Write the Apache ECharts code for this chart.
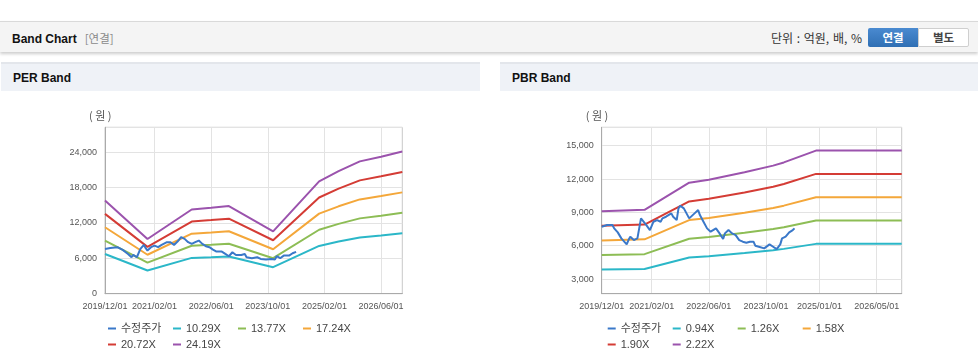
<!DOCTYPE html>
<html><head><meta charset="utf-8">
<script src="https://cdn.jsdelivr.net/npm/echarts@6/dist/echarts.min.js"></script>
<style>
html,body{margin:0;padding:0;}
body{width:978px;height:361px;background:#fff;position:relative;overflow:hidden;font-family:"Liberation Sans","Noto Sans CJK KR",sans-serif;}
.abs{position:absolute;}
#topbar{left:0;top:21px;width:978px;height:30px;background:#f4f4f4;border-top:1px solid #d9d9d9;box-shadow:0 2px 3px rgba(0,0,0,0.20);}
#ttl{left:12px;top:29px;font-size:12px;font-weight:bold;color:#111;line-height:18px;}
#ttl span{color:#8a8a8a;font-weight:normal;margin-left:8px;font-family:"Noto Sans CJK KR",sans-serif;font-size:11.5px;}
#unit{left:771px;top:29px;font-size:12px;color:#333;line-height:18px;font-family:"Noto Sans CJK KR",sans-serif;word-spacing:1px;}
#btn1{left:868px;top:28px;width:50px;height:19px;background:linear-gradient(#4a8ad0,#2f6fb4);color:#fff;font-weight:bold;font-size:11.5px;line-height:19px;text-align:center;border-radius:2px 0 0 2px;font-family:"Noto Sans CJK KR",sans-serif;}
#btn2{left:918px;top:28px;width:49px;height:17px;background:#fff;border:1px solid #cfcfcf;color:#444;font-weight:bold;font-size:11.5px;line-height:17px;text-align:center;border-radius:0 2px 2px 0;font-family:"Noto Sans CJK KR",sans-serif;}
.ph{top:62px;height:27px;background:#eff2f7;border-top:2px solid #e3e6eb;}
.ph div{position:absolute;left:12px;top:0;line-height:29px;font-size:12px;font-weight:bold;color:#111;}
#ph1{left:1px;width:479px;}
#ph2{left:500px;width:478px;}
#c1{left:0;top:92px;width:490px;height:269px;}
#c2{left:490px;top:92px;width:488px;height:269px;}
</style></head>
<body>
<div id="topbar" class="abs"></div>
<div id="ttl" class="abs">Band Chart<span>[연결]</span></div>
<div id="unit" class="abs">단위 : 억원, 배, %</div>
<div id="btn1" class="abs">연결</div>
<div id="btn2" class="abs">별도</div>
<div id="ph1" class="abs ph"><div>PER Band</div></div>
<div id="ph2" class="abs ph"><div>PBR Band</div></div>
<div id="c1" class="abs"></div>
<div id="c2" class="abs"></div>
<script>
// Half-month categories 2019/12/01 .. 2026/12/01
const categories = [];
(function(){let y=2019,m=12;while(y<2026||(y===2026&&m<=12)){const mm=String(m).padStart(2,'0');categories.push(y+'/'+mm+'/01');if(!(y===2026&&m===12))categories.push(y+'/'+mm+'/16');m++;if(m>12){m=1;y++;}}})();

const perTickIdx = [0, 28, 60, 92, 124, 156];
const pbrTickIdx = [0, 28, 60, 92, 122, 154];

const perLegend = ['수정주가', '10.29X', '13.77X', '17.24X', '20.72X', '24.19X'];
const pbrLegend = ['수정주가', '0.94X', '1.26X', '1.58X', '1.90X', '2.22X'];
const colors = ['#3a78c9', '#2bb7c8', '#8dbd55', '#f4a73a', '#d43c35', '#9b53ad'];

// PER band values [categoryIndex, value]
const per1029 = [[0,6719],[24,3941],[49,6071],[60,6195],[70,6318],[95,4497],[121,8098],[132,8839],[144,9539],[156,9878],[168,10249]];
const per1377 = [[0,8992],[24,5274],[49,8124],[60,8290],[70,8455],[95,6017],[121,10837],[132,11828],[144,12765],[156,13219],[168,13715]];
const per1724 = [[0,11258],[24,6603],[49,10172],[60,10378],[70,10585],[95,7534],[121,13568],[132,14809],[144,15981],[156,16550],[168,17171]];
const per2072 = [[0,13530],[24,7936],[49,12225],[60,12473],[70,12722],[95,9055],[121,16307],[132,17798],[144,19207],[156,19891],[168,20637]];
const per2419 = [[0,15796],[24,9265],[49,14272],[60,14562],[70,14853],[95,10571],[121,19038],[132,20779],[144,22424],[156,23222],[168,24093]];
const perPrice = [[0,7590],[3,7760],[7,7880],[10,7420],[13,6740],[15,6180],[16,6570],[18,6180],[20,7590],[22,8270],[23,7710],[24,7310],[26,7880],[28,8160],[30,7880],[32,8270],[35,8730],[37,8730],[39,8270],[41,8840],[43,9580],[45,9290],[47,8730],[49,8440],[51,8730],[53,9010],[55,8440],[57,8050],[59,7880],[61,7480],[63,7140],[64,7030],[66,7140],[68,6740],[70,6350],[72,7030],[74,6570],[77,6570],[79,6740],[80,6180],[83,6010],[86,6180],[88,5890],[91,5780],[94,5890],[96,5780],[97,6350],[99,6010],[101,6460],[104,6460],[106,6860],[108,7100]];

// PBR band values [categoryIndex, value]
const pbr094 = [[0,3854],[24,3910],[49,4942],[60,5057],[80,5339],[96,5593],[102,5715],[120,6166],[168,6166]];
const pbr126 = [[0,5166],[24,5242],[49,6624],[60,6779],[80,7157],[96,7497],[102,7661],[120,8266],[168,8266]];
const pbr158 = [[0,6478],[24,6573],[49,8306],[60,8500],[80,8974],[96,9401],[102,9606],[120,10365],[168,10365]];
const pbr190 = [[0,7790],[24,7904],[49,9988],[60,10222],[80,10792],[96,11305],[102,11552],[120,12464],[168,12464]];
const pbr222 = [[0,9102],[24,9235],[49,11671],[60,11944],[80,12610],[96,13209],[102,13498],[120,14563],[168,14563]];
const pbrPrice = [[0,7710],[3,7860],[6,7860],[7,7560],[9,7200],[11,6660],[14,6120],[15,6510],[16,6810],[18,6510],[20,6660],[21,7560],[22,8460],[23,8400],[25,7860],[27,7410],[28,7560],[29,8160],[31,8310],[33,8160],[34,8460],[36,8610],[37,8520],[39,8910],[40,8610],[42,8310],[43,9360],[44,9600],[46,9360],[47,9210],[49,8460],[50,8310],[52,8910],[54,9210],[55,8760],[57,8160],[59,7560],[61,7260],[62,7320],[64,7560],[66,7110],[68,6600],[69,7110],[71,7410],[73,7110],[75,6960],[76,6960],[77,6510],[79,6360],[81,6270],[83,6360],[85,6360],[86,6000],[88,5910],[91,5760],[92,5700],[94,6120],[96,5910],[98,5700],[100,6120],[101,6660],[103,6810],[105,7200],[107,7410],[108,7560]];

const FONT = '"Liberation Sans","Noto Sans CJK KR",sans-serif';

function build(cfg){
  const bandSeries = cfg.bands.map((d,k)=>({
    name: cfg.legend[k+1], type:'line', data:d, symbol:'none', silent:true,
    lineStyle:{width:2,color:colors[k+1]}, itemStyle:{color:colors[k+1]}, z:2
  }));
  const priceSeries = {name: cfg.legend[0], type:'line', data:cfg.price, symbol:'none', silent:true,
    lineStyle:{width:2,color:colors[0]}, itemStyle:{color:colors[0]}, z:3};
  const tickFn = (i)=>cfg.ticks.indexOf(i) >= 0;
  return {
    animation:false,
    textStyle:{fontFamily:FONT},
    grid:{left:cfg.gl, top:35.3, width:cfg.gw, height:166.4, show:true, borderColor:'#c9c9c9', borderWidth:1},
    legend:{
      data:cfg.legend, left:cfg.ll, top:231, width:262, padding:0,
      itemWidth:8, itemHeight:2, itemGap:5, icon:'rect',
      textStyle:{fontSize:11, color:'#444', width:47, lineHeight:9.5, fontFamily:FONT}
    },
    graphic:[{type:'text', left:cfg.gl-16, top:18.5, style:{text:'( 원 )', fontSize:11, fill:'#555', fontFamily:'"Noto Sans CJK KR",sans-serif'}}],
    xAxis:{
      type:'category', data:categories, boundaryGap:false,
      axisLine:{lineStyle:{color:'#aaaaaa'}},
      axisTick:{show:false},
      axisLabel:{interval:tickFn, color:'#555', fontSize:9, margin:8, fontFamily:FONT, hideOverlap:false},
      splitLine:{show:true, interval:tickFn, lineStyle:{color:'#e3e3e3'}}
    },
    yAxis:cfg.y,
    series: bandSeries.concat([priceSeries])
  };
}

const perY = {type:'value', min:0, max:28200, interval:6000,
  axisLine:{show:true, lineStyle:{color:'#aaaaaa'}}, axisTick:{show:false},
  axisLabel:{color:'#555', fontSize:9, margin:8, fontFamily:FONT, showMaxLabel:false,
    formatter:(v)=> v%6000===0 ? v.toLocaleString('en-US') : ''},
  splitLine:{lineStyle:{color:'#e3e3e3'}}};
const pbrY = {type:'value', min:1680, max:16660, splitNumber:5,
  axisLine:{show:true, lineStyle:{color:'#aaaaaa'}}, axisTick:{show:false},
  axisLabel:{color:'#555', fontSize:9, margin:8, fontFamily:FONT, showMaxLabel:false, showMinLabel:false,
    formatter:(v)=> v%3000===0 ? v.toLocaleString('en-US') : ''},
  splitLine:{lineStyle:{color:'#e3e3e3'}}};

const c1 = echarts.init(document.getElementById('c1'));
c1.setOption(build({legend:perLegend, bands:[per1029,per1377,per1724,per2072,per2419], price:perPrice,
  ticks:perTickIdx, gl:105, gw:297.3, ll:108, y:perY}));
const c2 = echarts.init(document.getElementById('c2'));
c2.setOption(build({legend:pbrLegend, bands:[pbr094,pbr126,pbr158,pbr190,pbr222], price:pbrPrice,
  ticks:pbrTickIdx, gl:111.7, gw:300, ll:117.7, y:pbrY}));
</script>
</body></html>
